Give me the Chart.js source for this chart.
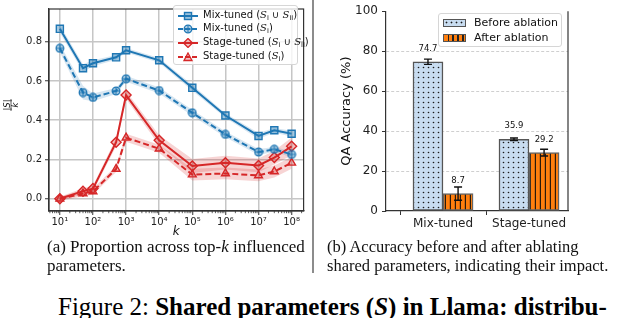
<!DOCTYPE html>
<html><head><meta charset="utf-8">
<script src="https://cdn.jsdelivr.net/npm/chart.js@4"></script>
<style>
html,body{margin:0;padding:0;background:#fff;width:620px;height:318px;overflow:hidden;position:relative;font-family:"DejaVu Sans",sans-serif;}
#c1{position:absolute;left:0;top:0;}
#c2{position:absolute;left:316px;top:0;}
.sep{position:absolute;left:312px;top:0;width:2px;height:273px;background:#8c8c8c;}
.cap{position:absolute;font-family:"Liberation Serif",serif;font-size:17px;line-height:19px;color:#111;white-space:nowrap;}
.fig{position:absolute;left:58px;top:293px;font-family:"Liberation Serif",serif;font-size:25px;line-height:28px;white-space:nowrap;color:#000;}
.lg{position:absolute;background:rgba(255,255,255,0.8);border:1px solid #d6d6d6;border-radius:3px;box-sizing:border-box;}
.row{position:absolute;left:0;height:12px;width:100%;}
.row svg{position:absolute;left:4px;top:1px;}
.row span{position:absolute;left:29px;top:-1px;font-size:10px;line-height:12px;color:#111;white-space:nowrap;}
.row span sub{font-size:6.5px;vertical-align:-2px;line-height:0;}
.row span i{font-family:"DejaVu Serif",serif;}
.r2{position:absolute;left:0;height:14px;width:100%;}
.r2 .p{position:absolute;left:4px;top:3px;width:23px;height:8px;box-sizing:border-box;border:1px solid #555;}
.r2 span{position:absolute;left:35px;top:0;font-size:11px;line-height:14px;color:#111;white-space:nowrap;}
.pb{background-color:#c8dcf0;background-image:radial-gradient(circle,#1a1a1a 0.8px,transparent 1.1px);background-size:5px 5px;}
.pa{background:repeating-linear-gradient(90deg,#ff7f0e 0 3.5px,#222 3.5px 5px);}
</style></head>
<body>
<canvas id="c1" width="310" height="242"></canvas>
<canvas id="c2" width="304" height="240"></canvas>
<div class="sep"></div>

<div class="lg" style="left:173px;top:5px;width:125px;height:60px;">
  <div class="row" style="top:4px;"><svg width="20" height="10"><line x1="0" y1="5" x2="20" y2="5" stroke="#1f77b4" stroke-width="2"/><rect x="6.5" y="1.5" width="7" height="7" fill="rgba(31,119,180,0.45)" stroke="#1f77b4" stroke-width="1.4"/></svg><span>Mix-tuned (<i>S</i><sub>I</sub> ∪ <i>S</i><sub>II</sub>)</span></div>
  <div class="row" style="top:17px;"><svg width="20" height="10"><line x1="0" y1="5" x2="20" y2="5" stroke="#1f77b4" stroke-width="2" stroke-dasharray="5,2"/><circle cx="10" cy="5" r="3.8" fill="rgba(31,119,180,0.35)" stroke="#1f77b4" stroke-width="1.3"/><line x1="10" y1="1.5" x2="10" y2="8.5" stroke="#1f77b4" stroke-width="1"/><line x1="6.5" y1="5" x2="13.5" y2="5" stroke="#1f77b4" stroke-width="1"/></svg><span>Mix-tuned (<i>S</i><sub>I</sub>)</span></div>
  <div class="row" style="top:31px;"><svg width="20" height="10"><line x1="0" y1="5" x2="20" y2="5" stroke="#d62728" stroke-width="2"/><polygon points="10,0.5 14.5,5 10,9.5 5.5,5" fill="rgba(214,39,40,0.3)" stroke="#d62728" stroke-width="1.3"/></svg><span>Stage-tuned (<i>S</i><sub>I</sub> ∪ <i>S</i><sub>II</sub>)</span></div>
  <div class="row" style="top:45px;"><svg width="20" height="10"><line x1="0" y1="5" x2="20" y2="5" stroke="#d62728" stroke-width="2" stroke-dasharray="5,2"/><polygon points="10,1 14,8.5 6,8.5" fill="rgba(214,39,40,0.3)" stroke="#d62728" stroke-width="1.3"/></svg><span>Stage-tuned (<i>S</i><sub>I</sub>)</span></div>
</div>

<div class="lg" style="left:438px;top:13px;width:124px;height:34px;">
  <div class="r2" style="top:2px;"><div class="p pb"></div><span>Before ablation</span></div>
  <div class="r2" style="top:17px;"><div class="p pa"></div><span>After ablation</span></div>
</div>

<div class="cap" style="left:47px;top:237px;">(a) Proportion across top-<i>k</i> influenced<br>parameters.</div>
<div class="cap" style="left:327px;top:237px;font-size:16.5px;">(b) Accuracy before and after ablating<br>shared parameters, indicating their impact.</div>
<div class="fig">Figure 2: <b>Shared parameters (<i>S</i>) in Llama: distribu-</b></div>

<script>
// ---------- data: left panel ----------
const kValues = [10, 50, 100, 500, 1000, 1e4, 1e5, 1e6, 1e7, 3e7, 1e8];
const mixUnion   = [0.865, 0.665, 0.690, 0.720, 0.756, 0.705, 0.565, 0.424, 0.320, 0.349, 0.331];
const mixI       = [0.766, 0.541, 0.516, 0.549, 0.611, 0.551, 0.438, 0.328, 0.238, 0.252, 0.226];
const stageUnion = [0.000, 0.039, 0.052, 0.288, 0.528, 0.298, 0.167, 0.184, 0.170, 0.210, 0.267];
const stageI     = [0.000, 0.027, 0.037, 0.152, 0.311, 0.255, 0.123, 0.129, 0.119, 0.139, 0.183];
const mixUnionBand   = [0.020, 0.020, 0.015, 0.012, 0.012, 0.012, 0.015, 0.012, 0.015, 0.012, 0.015];
const mixIBand       = [0.020, 0.035, 0.020, 0.015, 0.015, 0.015, 0.015, 0.015, 0.015, 0.012, 0.015];
const stageUnionBand = [0.010, 0.015, 0.015, 0.020, 0.020, 0.025, 0.035, 0.035, 0.035, 0.035, 0.045];
const stageIBand     = [0.010, 0.015, 0.015, 0.015, 0.020, 0.020, 0.030, 0.030, 0.030, 0.030, 0.030];
const xTickValues = [1e1, 1e2, 1e3, 1e4, 1e5, 1e6, 1e7, 1e8];
const xTickLabels = ['10\u00b9','10\u00b2','10\u00b3','10\u2074','10\u2075','10\u2076','10\u2077','10\u2078'];
const yTickValues = [0, 0.2, 0.4, 0.6, 0.8];
const yTickLabels = ['0.0','0.2','0.4','0.6','0.8'];

// ---------- data: right panel ----------
const groups = ['Mix-tuned', 'Stage-tuned'];
const beforeAcc = [74.7, 35.9];
const beforeErr = [1.3, 0.6];
const afterAcc  = [8.7, 29.2];
const afterErr  = [3.3, 1.7];
const accTicks = [0, 20, 40, 60, 80, 100];

const blue = '#1f77b4', red = '#d62728';
const FONT = 'DejaVu Sans';

function circlePlus(){
  const c = document.createElement('canvas'); c.width = 10; c.height = 10;
  const g = c.getContext('2d');
  g.beginPath(); g.arc(5,5,3.8,0,Math.PI*2); g.fillStyle='rgba(31,119,180,0.35)'; g.fill();
  g.lineWidth=1.3; g.strokeStyle=blue; g.stroke();
  g.lineWidth=1; g.beginPath(); g.moveTo(5,1.3); g.lineTo(5,8.7); g.moveTo(1.3,5); g.lineTo(8.7,5); g.stroke();
  return c;
}

function pts(vals){ return vals.map((v,i)=>({x:kValues[i], y:v})); }
function lineSet(vals, color, dash, style, radius){
  return {data: pts(vals), borderColor: color, borderWidth: 2, borderDash: dash, pointStyle: style,
    pointRadius: radius, pointBorderWidth: 1.4, pointBorderColor: color,
    pointBackgroundColor: color === blue ? 'rgba(31,119,180,0.4)' : 'rgba(214,39,40,0.3)', fill: false, tension: 0};
}
function bandSets(vals, band, color){
  return [
    {data: vals.map((v,i)=>({x:kValues[i], y:v+band[i]})), borderWidth:0, pointRadius:0, fill:false, backgroundColor:color, borderColor:'transparent'},
    {data: vals.map((v,i)=>({x:kValues[i], y:v-band[i]})), borderWidth:0, pointRadius:0, fill:'-1', backgroundColor:color, borderColor:'transparent'}
  ];
}

const leftDeco = {
  id: 'leftDeco',
  afterDraw(chart){
    const ctx = chart.ctx, a = chart.chartArea, xs = chart.scales.x;
    ctx.save();
    ctx.strokeStyle = '#333'; ctx.lineWidth = 1.2;
    ctx.strokeRect(a.left, a.top, a.right - a.left, a.bottom - a.top);
    ctx.lineWidth = 0.8;
    for (let d = 0; d <= 8; d++) for (let m = 2; m <= 9; m++) {
      const v = m * Math.pow(10, d);
      if (v < xs.min || v > xs.max) continue;
      const px = xs.getPixelForValue(v);
      ctx.beginPath(); ctx.moveTo(px, a.bottom); ctx.lineTo(px, a.bottom + 2.2); ctx.stroke();
    }
    ctx.fillStyle = '#111';
    ctx.font = 'italic 12px ' + FONT; ctx.textAlign = 'center'; ctx.textBaseline = 'middle';
    ctx.fillText('k', (a.left + a.right)/2, 232);
    ctx.translate(11, 105); ctx.rotate(-Math.PI/2);
    ctx.font = 'italic 8.5px ' + FONT; ctx.textBaseline = 'alphabetic';
    ctx.fillText('|S|', 0, -1.5);
    ctx.lineWidth = 0.8; ctx.beginPath(); ctx.moveTo(-6, 0); ctx.lineTo(6, 0); ctx.stroke();
    ctx.textBaseline = 'top'; ctx.fillText('k', 0, 1);
    ctx.restore();
  }
};

new Chart(document.getElementById('c1'), {
  type: 'line',
  data: { datasets: [
    lineSet(mixUnion, blue, [], 'rect', 5),
    lineSet(mixI, blue, [6,3], circlePlus(), 4),
    lineSet(stageUnion, red, [], 'rectRot', 5),
    lineSet(stageI, red, [6,3], 'triangle', 4.5),
    ...bandSets(mixUnion, mixUnionBand, 'rgba(31,119,180,0.18)'),
    ...bandSets(mixI, mixIBand, 'rgba(31,119,180,0.18)'),
    ...bandSets(stageUnion, stageUnionBand, 'rgba(214,39,40,0.2)'),
    ...bandSets(stageI, stageIBand, 'rgba(214,39,40,0.2)')
  ]},
  options: {
    responsive: false, animation: false, events: [],
    layout: {padding: {left: 0, top: 2, right: 5, bottom: 0}},
    plugins: {legend: {display: false}, tooltip: {enabled: false}, filler: {drawTime: 'beforeDatasetsDraw'}},
    scales: {
      x: {type: 'logarithmic', min: 4.7, max: 2.3e8,
        afterBuildTicks: s => { s.ticks = xTickValues.map(v => ({value: v})); },
        afterFit: s => { s.height = 31; },
        ticks: {callback: (v, i) => xTickLabels[i], autoSkip: false, maxRotation: 0, minRotation: 0,
          font: {family: FONT, size: 10}, color: '#222', padding: 1},
        grid: {color: '#c6c6c6', lineWidth: 1.5, tickColor: '#333', tickLength: 4, tickWidth: 1},
        border: {color: '#333', width: 1.2}},
      y: {min: -0.062, max: 0.966,
        afterBuildTicks: s => { s.ticks = yTickValues.map(v => ({value: v})); },
        afterFit: s => { s.width = 49; },
        ticks: {callback: (v, i) => yTickLabels[i], font: {family: FONT, size: 10}, color: '#222', padding: 3},
        grid: {color: '#c6c6c6', lineWidth: 1.5, tickColor: '#333', tickLength: 4, tickWidth: 1},
        border: {color: '#333', width: 1.2}}
    }
  },
  plugins: [leftDeco]
});

function dotPattern(){
  const c = document.createElement('canvas'); c.width = 5; c.height = 5;
  const g = c.getContext('2d');
  g.fillStyle = '#c8dcf0'; g.fillRect(0,0,5,5);
  g.fillStyle = '#1a1a1a'; g.beginPath(); g.arc(2.5,2.5,0.8,0,Math.PI*2); g.fill();
  return g.createPattern(c, 'repeat');
}
function stripePattern(){
  const c = document.createElement('canvas'); c.width = 5; c.height = 5;
  const g = c.getContext('2d');
  g.fillStyle = '#ff7f0e'; g.fillRect(0,0,5,5);
  g.fillStyle = '#2a1a0a'; g.fillRect(3.8,0,1.2,5);
  return g.createPattern(c, 'repeat');
}
const barOff = 0.175;

const rightDeco = {
  id: 'rightDeco',
  afterDatasetsDraw(chart){
    const ctx = chart.ctx, ys = chart.scales.y;
    ctx.save();
    chart.data.datasets.forEach((ds, di) => {
      chart.getDatasetMeta(di).data.forEach((bar, i) => {
        const v = ds.data[i].y, e = ds.errors[i];
        const y1 = ys.getPixelForValue(v - e), y2 = ys.getPixelForValue(v + e);
        ctx.strokeStyle = '#111'; ctx.lineWidth = 1.4;
        ctx.beginPath();
        ctx.moveTo(bar.x, y1); ctx.lineTo(bar.x, y2);
        ctx.moveTo(bar.x - 4, y1); ctx.lineTo(bar.x + 4, y1);
        ctx.moveTo(bar.x - 4, y2); ctx.lineTo(bar.x + 4, y2);
        ctx.stroke();
        ctx.fillStyle = '#111'; ctx.font = '8.5px ' + FONT; ctx.textAlign = 'center'; ctx.textBaseline = 'middle';
        ctx.fillText(v.toFixed(1), bar.x, ys.getPixelForValue(v) - 13);
      });
    });
    ctx.restore();
  },
  afterDraw(chart){
    const ctx = chart.ctx, a = chart.chartArea;
    ctx.save();
    ctx.strokeStyle = '#333'; ctx.lineWidth = 1.2;
    ctx.beginPath(); ctx.moveTo(a.right, a.top); ctx.lineTo(a.right, a.bottom); ctx.stroke();
    ctx.translate(31, (a.top + a.bottom)/2); ctx.rotate(-Math.PI/2);
    ctx.fillStyle = '#111'; ctx.font = '13px ' + FONT; ctx.textAlign = 'center'; ctx.textBaseline = 'middle';
    ctx.fillText('QA Accuracy (%)', 0, 0);
    ctx.restore();
  }
};

new Chart(document.getElementById('c2'), {
  type: 'bar',
  data: { datasets: [
    {label: 'Before ablation', data: beforeAcc.map((v, i) => ({x: i - barOff, y: v})), errors: beforeErr,
      backgroundColor: dotPattern(), borderColor: '#555', borderWidth: 1.5, borderSkipped: false, barThickness: 30, grouped: false},
    {label: 'After ablation', data: afterAcc.map((v, i) => ({x: i + barOff, y: v})), errors: afterErr,
      backgroundColor: stripePattern(), borderColor: '#666', borderWidth: 1.5, borderSkipped: false, barThickness: 30, grouped: false}
  ]},
  options: {
    responsive: false, animation: false, events: [],
    layout: {padding: {left: 0, top: 7, right: 52, bottom: 0}},
    plugins: {legend: {display: false}, tooltip: {enabled: false}},
    scales: {
      x: {type: 'linear', min: -0.663, max: 1.453, offset: false,
        afterBuildTicks: s => { s.ticks = groups.map((g, i) => ({value: i})); },
        afterFit: s => { s.height = 29; },
        ticks: {callback: (v, i) => groups[i], autoSkip: false, maxRotation: 0, minRotation: 0,
          font: {family: FONT, size: 12}, color: '#222', padding: 2},
        grid: {drawOnChartArea: false, tickColor: '#333', tickLength: 4, tickWidth: 1},
        border: {color: '#333', width: 1.2}},
      y: {min: 0, max: 100,
        afterBuildTicks: s => { s.ticks = accTicks.map(v => ({value: v})); },
        afterFit: s => { s.width = 70; },
        ticks: {font: {family: FONT, size: 12}, color: '#222', padding: 4},
        grid: {color: c => (c.tick && (c.tick.value === 0 || c.tick.value === 100)) ? 'rgba(0,0,0,0)' : '#cfcfcf',
          lineWidth: 1, tickColor: '#333', tickLength: 4, tickWidth: 1},
        border: {color: '#333', width: 1.2, dash: [3, 2]}}
    }
  },
  plugins: [rightDeco]
});
</script>
</body></html>
